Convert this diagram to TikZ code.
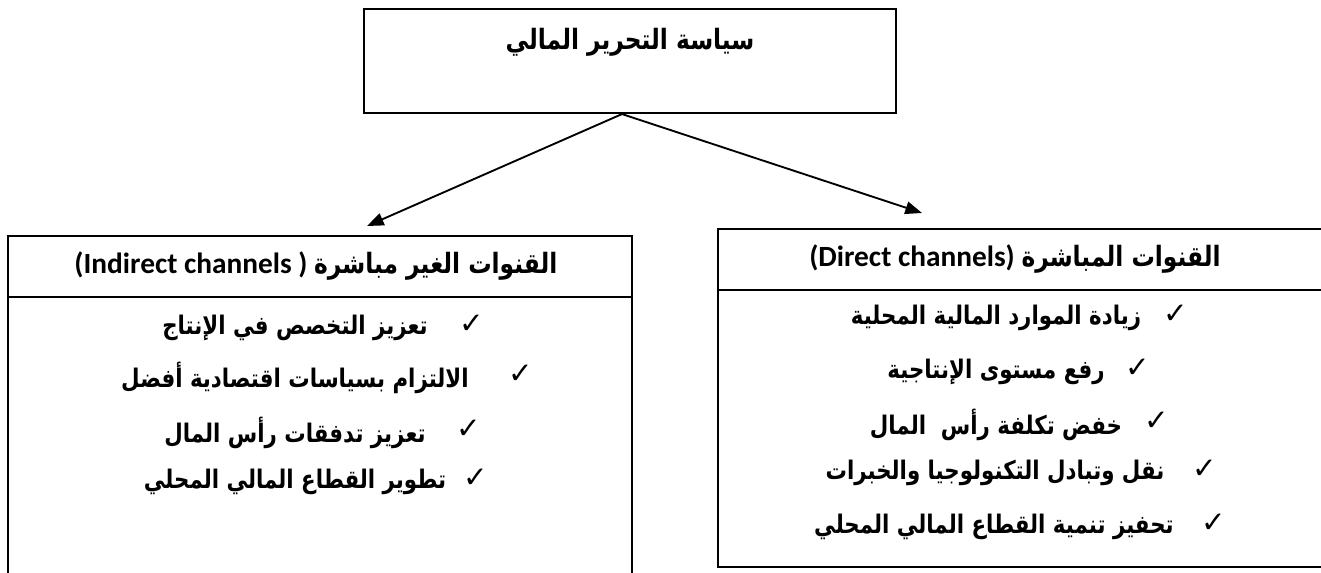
\documentclass[tikz,border=0pt]{standalone}
\usepackage{fontspec}
\usepackage{graphicx}
\TeXXeTstate=1
\newfontfamily\arabicfont[Script=Arabic]{DejaVu Sans}
\newfontfamily\latinfont{Carlito}
\newfontfamily\symfont{DejaVu Sans}
\usetikzlibrary{arrows.meta}

\tikzset{
  frame/.style={draw=black, line width=1.6pt, inner sep=0pt},
  rule/.style={draw=black, line width=1.6pt},
  link/.style={draw=black, line width=1.4pt, -{Triangle[length=12.5pt,width=9.5pt]}},
  headtext/.style={inner sep=0pt, font=\arabicfont\bfseries\fontsize{17.5}{20}\selectfont},
  itemtext/.style={inner sep=0pt, font=\arabicfont\bfseries\fontsize{16}{18}\selectfont},
  tick/.style={inner sep=0pt, font=\symfont\fontsize{22}{24}\selectfont},
}
% Arabic line set right to left, drawn a little taller than the font
\newcommand\rtlline[1]{\scalebox{1}[1.2]{\beginR #1\endR}}
\newcommand\latinpart[1]{{\latinfont\bfseries\fontsize{22}{24}\selectfont #1}}

\begin{document}
\begin{tikzpicture}[x=0.75pt,y=-0.75pt]
\useasboundingbox (0,0) rectangle (1321,572);
\clip (0,0) rectangle (1321,572);

% policy box
\node[frame, minimum width=399pt, minimum height=78pt] (top) at (630,61) {};
\node[headtext] (toptxt) at (630,42) {\rtlline{سياسة التحرير المالي}};

% indirect channels box (runs past the lower edge)
\node[frame, minimum width=468pt, minimum height=273pt] (lbox) at (320,418) {};
\draw[rule] (lbox.west |- 0,297) -- (lbox.east |- 0,297);
\node[headtext] (lhead) at (316,266) {\latinpart{(Indirect channels )}\hspace{5pt}\rtlline{القنوات الغير مباشرة}};

% direct channels box (runs past the right edge)
\node[frame, minimum width=455.25pt, minimum height=253.5pt] (rbox) at (1021.5,398) {};
\draw[rule] (rbox.west |- 0,290) -- (rbox.east |- 0,290);
\node[headtext] (rhead) at (1015,259) {\latinpart{(Direct channels)}\hspace{5pt}\rtlline{القنوات المباشرة}};

% connectors
\coordinate (ltip) at (367,226);
\coordinate (rtip) at (922,213);
\draw[link] ([xshift=-6pt]top.south) -- (ltip);
\draw[link] ([xshift=-6pt]top.south) -- (rtip);

% direct channel items
\node[itemtext] (r1) at (996,318) {\rtlline{زيادة الموارد المالية المحلية}};
\node[itemtext] (r2) at (996,372) {\rtlline{رفع مستوى الإنتاجية}};
\node[itemtext] (r3) at (996,425) {\rtlline{خفض تكلفة رأس\ \ المال}};
\node[itemtext] (r4) at (995,473) {\rtlline{نقل وتبادل التكنولوجيا والخبرات}};
\node[itemtext] (r5) at (994,527) {\rtlline{تحفيز تنمية القطاع المالي المحلي}};
\node[tick] (t1) at ([xshift=26pt,yshift=3pt]r1.east) {✓};
\node[tick] (t2) at ([xshift=25pt,yshift=3pt]r2.east) {✓};
\node[tick] (t3) at ([xshift=26pt,yshift=3pt]r3.east) {✓};
\node[tick] (t4) at ([xshift=30pt,yshift=3pt]r4.east) {✓};
\node[tick] (t5) at ([xshift=30pt,yshift=3pt]r5.east) {✓};

% indirect channel items
\node[itemtext] (l1) at (295,328) {\rtlline{تعزيز التخصص في الإنتاج}};
\node[itemtext] (l2) at (295,378) {\rtlline{الالتزام بسياسات اقتصادية أفضل}};
\node[itemtext] (l3) at (295,433) {\rtlline{تعزيز تدفقات رأس المال}};
\node[itemtext] (l4) at (295,482) {\rtlline{تطوير القطاع المالي المحلي}};
\node[tick] (s1) at ([xshift=33pt,yshift=3pt]l1.east) {✓};
\node[tick] (s2) at ([xshift=39pt,yshift=3pt]l2.east) {✓};
\node[tick] (s3) at ([xshift=32pt,yshift=3pt]l3.east) {✓};
\node[tick] (s4) at ([xshift=22pt,yshift=3pt]l4.east) {✓};
\end{tikzpicture}
\end{document}
